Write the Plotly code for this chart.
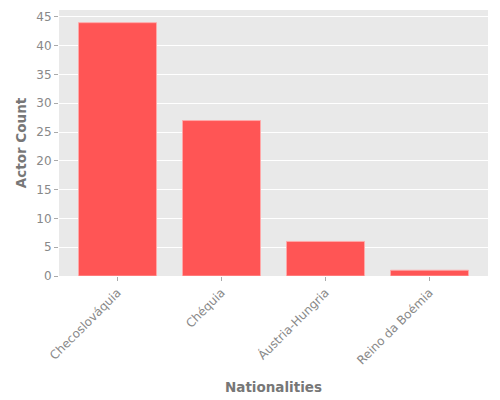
import plotly.graph_objects as go

nationalities = ["Checoslováquia", "Chéquia", "Áustria-Hungria", "Reino da Boémia"]
actor_counts = [44, 27, 6, 1]

fig = go.Figure()
fig.add_trace(go.Bar(
    x=list(range(len(nationalities))), y=actor_counts, width=0.75,
    marker=dict(color="#FF5555", line=dict(color="rgba(255,170,170,0.9)", width=1)),
))

# page body has an 8px margin, so the figure is sized to fill the rest of the window
fig.update_layout(
    width=492, height=392,
    margin=dict(l=51, r=12, t=2, b=124),
    paper_bgcolor="white",
    plot_bgcolor="#E9E9E9",
    font=dict(family="DejaVu Sans", color="#888888", size=12),
    showlegend=False,
    xaxis=dict(
        tickmode="array", tickvals=list(range(len(nationalities))), ticktext=nationalities,
        range=[-0.5625, 3.5625], tickangle=-45, showgrid=False, zeroline=False,
        ticks="outside", ticklen=4, tickcolor="#aaaaaa",
        title=dict(text="<b>Nationalities</b>", font=dict(size=13.5, color="#777777"), standoff=16),
    ),
    yaxis=dict(
        range=[0, 46.2], dtick=5, gridcolor="white", gridwidth=1, zeroline=False,
        ticks="outside", ticklen=4, tickcolor="#aaaaaa",
        title=dict(text="<b>Actor Count</b>", font=dict(size=13.5, color="#777777"), standoff=6),
    ),
)

fig.write_html("out.html")
